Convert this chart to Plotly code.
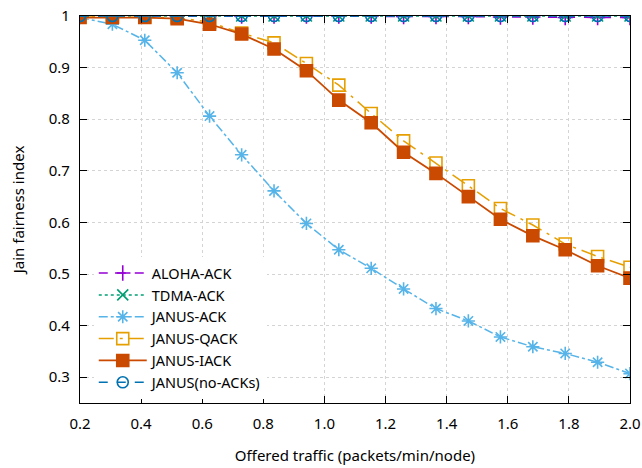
import plotly.graph_objects as go

# offered traffic (packets/min/node)
x_vals = [0.2, 0.306, 0.412, 0.518, 0.624, 0.729, 0.835, 0.941, 1.047,
          1.153, 1.259, 1.365, 1.471, 1.576, 1.682, 1.788, 1.894, 2.0]

aloha_ack = [1.0, 1.0, 1.0, 1.0, 1.0, 1.0, 1.0, 1.0, 1.0,
             1.0, 0.999, 0.999, 0.999, 0.998, 0.998, 0.997, 0.997, 0.997]
tdma_ack = [1.0] * 18
janus_ack = [0.997, 0.984, 0.953, 0.890, 0.806, 0.731, 0.661, 0.598, 0.547,
             0.511, 0.471, 0.433, 0.409, 0.378, 0.359, 0.346, 0.329, 0.307]
janus_qack = [0.998, 0.998, 0.998, 0.997, 0.988, 0.967, 0.948, 0.908, 0.866,
              0.811, 0.758, 0.715, 0.671, 0.627, 0.595, 0.558, 0.534, 0.513]
janus_iack = [0.997, 0.997, 0.997, 0.995, 0.984, 0.965, 0.936, 0.894, 0.837,
              0.793, 0.736, 0.695, 0.650, 0.606, 0.574, 0.547, 0.516, 0.492]
janus_noack = [1.0] * 18

series_names = ["ALOHA-ACK", "TDMA-ACK", "JANUS-ACK", "JANUS-QACK", "JANUS-IACK", "JANUS(no-ACKs)"]
x_ticks = [0.2, 0.4, 0.6, 0.8, 1.0, 1.2, 1.4, 1.6, 1.8, 2.0]
y_ticks = [0.3, 0.4, 0.5, 0.6, 0.7, 0.8, 0.9, 1.0]
y_tick_text = ["0.3", "0.4", "0.5", "0.6", "0.7", "0.8", "0.9", "1"]

styles = [
    dict(color="#9400d3", dash="dash", symbol="cross-thin-open", size=11, lw=1.5),
    dict(color="#009e73", dash="dot", symbol="x-thin-open", size=11, lw=1.5),
    dict(color="#56b4e9", dash="dashdot", symbol="asterisk-open", size=11, lw=1.5),
    dict(color="#e69f00", dash="longdashdot", symbol="square-open", size=12, lw=1.5),
    dict(color="#c94a00", dash="solid", symbol="square", size=12, lw=1.8),
    dict(color="#0072b2", dash="dash", symbol="circle-open", size=11, lw=1.5),
]
data = [aloha_ack, tdma_ack, janus_ack, janus_qack, janus_iack, janus_noack]

fig = go.Figure()
for name, ys, st in zip(series_names, data, styles):
    fig.add_trace(go.Scatter(
        x=x_vals, y=ys, name=name, mode="lines+markers",
        line=dict(color=st["color"], dash=st["dash"], width=st["lw"]),
        marker=dict(symbol=st["symbol"], size=st["size"], color=st["color"],
                    line=dict(color=st["color"], width=1.6)),
    ))
# horizontal bar inside the no-ACKs circles
fig.add_trace(go.Scatter(
    x=x_vals, y=janus_noack, mode="markers", showlegend=False, hoverinfo="skip",
    marker=dict(symbol="line-ew-open", size=8, color="#0072b2",
                line=dict(color="#0072b2", width=1.5)),
))

axis_common = dict(
    showline=True, linecolor="black", linewidth=1.2, mirror="ticks",
    ticks="inside", ticklen=7, tickcolor="black", tickwidth=1.2,
    showgrid=True, gridcolor="#d4d4d4", griddash="dot", gridwidth=1,
    zeroline=False, tickfont=dict(size=15, color="black"), automargin=False,
)

fig.update_layout(
    width=642, height=468,
    margin=dict(l=80, r=12, t=16, b=65),
    plot_bgcolor="white", paper_bgcolor="white",
    font=dict(family="Noto Sans", size=15, color="black"),
    xaxis=dict(range=[0.2, 2.0], tickvals=x_ticks, tickformat=".1f",
               ticklabelstandoff=7,
               title=dict(text="Offered traffic (packets/min/node)", standoff=18,
                          font=dict(size=15)),
               **axis_common),
    yaxis=dict(range=[0.25, 1.0], tickvals=y_ticks, ticktext=y_tick_text,
               ticklabelstandoff=6,
               title=dict(text="Jain fairness index", standoff=20, font=dict(size=15)),
               **axis_common),
    legend=dict(x=0.025, y=0.01, xanchor="left", yanchor="bottom",
                bgcolor="rgba(255,255,255,1)", borderwidth=0,
                font=dict(size=14.5), tracegroupgap=0, itemwidth=48),
    showlegend=True,
)

fig.write_html("out.html")
